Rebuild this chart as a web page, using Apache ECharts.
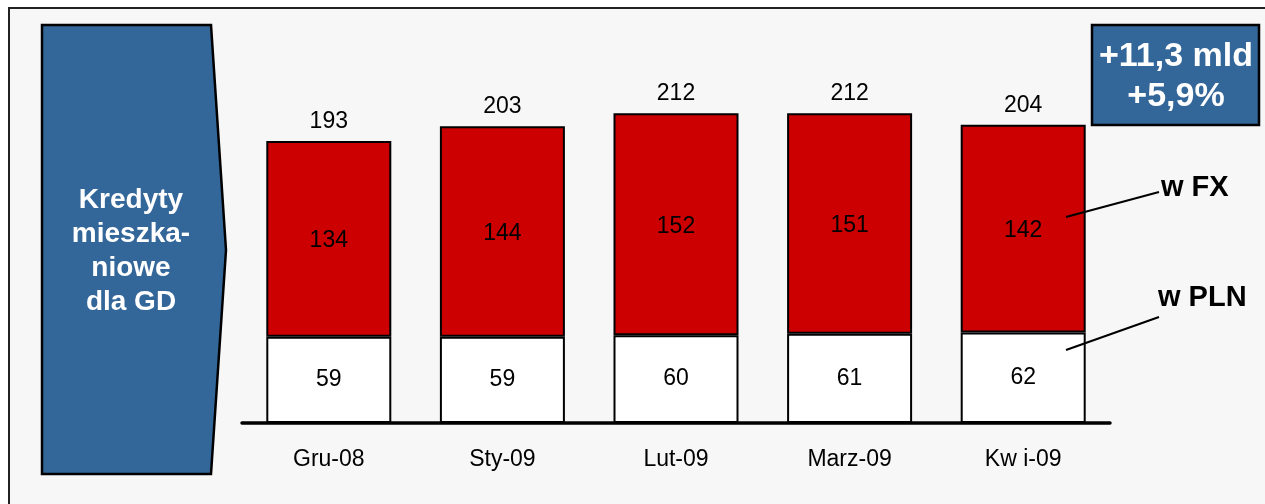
<!DOCTYPE html>
<html>
<head>
<meta charset="utf-8">
<script src="https://cdn.jsdelivr.net/npm/echarts@6/dist/echarts.min.js"></script>
<style>
  html, body { margin: 0; padding: 0; background: #fff; }
  #chart { width: 1265px; height: 504px; }
</style>
</head>
<body>
<div id="chart"></div>
<script>
// dane: kredyty mieszkaniowe dla GD (mld zł)
var months = ['Gru-08', 'Sty-09', 'Lut-09', 'Marz-09', 'Kw i-09'];
var plnValues = [59, 59, 60, 61, 62];
var fxValues = [134, 144, 152, 151, 142];
var totals = [193, 203, 212, 212, 204];

var FONT = '"Liberation Sans", Arial, sans-serif';
var BLUE = '#336699';

var chart = echarts.init(document.getElementById('chart'));
chart.setOption({
    backgroundColor: '#fff',
    animation: false,
    grid: {
        left: 242,
        right: 155,
        top: 43,
        bottom: 81
    },
    xAxis: {
        type: 'category',
        data: months,
        axisLine: { lineStyle: { color: '#000', width: 3.5 } },
        axisTick: { show: false },
        axisLabel: { color: '#000', fontSize: 23, fontFamily: FONT, margin: 25 }
    },
    yAxis: {
        type: 'value',
        min: 0,
        max: 260,
        show: false,
        splitLine: { show: false }
    },
    graphic: [
        // tło i ramka
        { type: 'rect', z: -10, shape: { x: 9, y: 8, width: 1270, height: 520 },
          style: { fill: '#f7f7f7', stroke: '#222', lineWidth: 2 } },
        // strzałka z opisem
        { type: 'polygon', z: 100,
          shape: { points: [[42, 25], [211, 25], [226, 250], [211, 474], [42, 474]] },
          style: { fill: BLUE, stroke: '#000', lineWidth: 2.5 } },
        { type: 'text', z: 101, x: 131, y: 251,
          style: { text: 'Kredyty\nmieszka-\nniowe\ndla GD', fill: '#fff', font: 'bold 28px ' + FONT,
                   align: 'center', verticalAlign: 'middle', lineHeight: 34 } },
        // ramka z przyrostem
        { type: 'rect', z: 100, shape: { x: 1092, y: 25, width: 167, height: 100 },
          style: { fill: BLUE, stroke: '#000', lineWidth: 2.5 } },
        { type: 'text', z: 101, x: 1176, y: 77,
          style: { text: '+11,3 mld\n+5,9%', fill: '#fff', font: 'bold 34px ' + FONT,
                   align: 'center', verticalAlign: 'middle', lineHeight: 40 } },
        // opisy serii
        { type: 'line', z: 100, shape: { x1: 1066, y1: 217, x2: 1159, y2: 192 },
          style: { stroke: '#000', lineWidth: 2 } },
        { type: 'line', z: 100, shape: { x1: 1066, y1: 350, x2: 1159, y2: 317 },
          style: { stroke: '#000', lineWidth: 2 } },
        { type: 'text', z: 101, x: 1161, y: 188,
          style: { text: 'w FX', fill: '#000', font: 'bold 29px ' + FONT, verticalAlign: 'middle' } },
        { type: 'text', z: 101, x: 1158, y: 298,
          style: { text: 'w PLN', fill: '#000', font: 'bold 29px ' + FONT, verticalAlign: 'middle' } }
    ],
    series: [
        {
            name: 'w PLN',
            type: 'bar',
            stack: 'kredyty',
            barWidth: 125,
            data: plnValues,
            itemStyle: { color: '#fff', borderColor: '#000', borderWidth: 2 },
            label: { show: true, position: 'inside', color: '#000', fontSize: 23, fontFamily: FONT }
        },
        {
            name: 'w FX',
            type: 'bar',
            stack: 'kredyty',
            barWidth: 125,
            data: fxValues,
            itemStyle: { color: '#cc0000', borderColor: '#000', borderWidth: 2 },
            label: { show: true, position: 'inside', offset: [0, 2], color: '#000', fontSize: 23, fontFamily: FONT }
        },
        {
            name: 'Razem',
            type: 'bar',
            barWidth: 125,
            barGap: '-100%',
            z: 1,
            data: totals,
            itemStyle: { color: 'rgba(0,0,0,0)' },
            label: { show: true, position: 'top', distance: 8, color: '#000', fontSize: 23, fontFamily: FONT }
        }
    ]
});
</script>
</body>
</html>
